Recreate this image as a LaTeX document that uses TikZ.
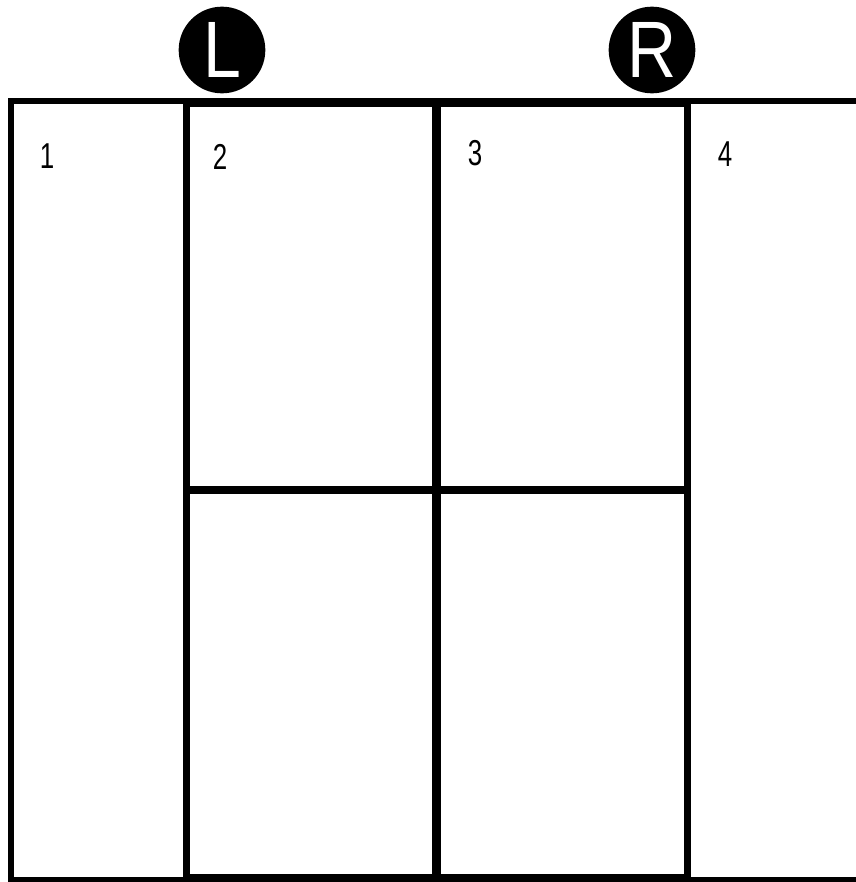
\documentclass[tikz,border=0pt]{standalone}
\usepackage{fontspec}
\setmainfont{Liberation Sans}
\newcommand{\badgetext}[1]{\scalebox{0.85}[1]{#1}}
\newcommand{\celltext}[1]{\scalebox{0.72}[1]{#1}}
\begin{document}
\begin{tikzpicture}[x=0.75pt,y=-0.75pt,
  outerframe/.style={line width=3.8pt,line cap=rect,line join=miter},
  innerframe/.style={line width=5.8pt,line join=miter},
  divider/.style={line width=6.2pt},
  hdivider/.style={line width=5.6pt},
  badge/.style={circle,fill=black,minimum size=65pt,inner sep=0pt,text=white,font=\fontsize{60}{60}\selectfont},
  cellnum/.style={font=\fontsize{27}{27}\selectfont,inner sep=0pt,anchor=center}]
\useasboundingbox (0,0) rectangle (856,882);
\fill[white] (0,0) rectangle (856,882);
\begin{scope}
  \clip (0,0) rectangle (856,882);
  \coordinate (otr) at (880,101);
  \coordinate (otl) at (11,101);
  \coordinate (obl) at (11,880);
  \coordinate (obr) at (880,880);
  \draw[outerframe] (otr) -- (otl) -- (obl) -- (obr);
\end{scope}
\coordinate (itl) at (186.5,103);
\coordinate (ibr) at (687.5,878);
\coordinate (mtop) at (436.5,103);
\coordinate (mbot) at (436.5,878);
\coordinate (hl) at (186.5,490);
\coordinate (hr) at (687.5,490);
\draw[hdivider] (hl) -- (hr);
\draw[divider] (mtop) -- (mbot);
\draw[innerframe] (itl) rectangle (ibr);
\node[badge] (L) at (222,50) {\badgetext{L}};
\node[badge] (R) at (652,50) {\badgetext{R}};
\node[cellnum] (n1) at (47,156) {\celltext{1}};
\node[cellnum] (n2) at (220,157) {\celltext{2}};
\node[cellnum] (n3) at (475,153) {\celltext{3}};
\node[cellnum] (n4) at (725,154) {\celltext{4}};
\end{tikzpicture}
\end{document}
